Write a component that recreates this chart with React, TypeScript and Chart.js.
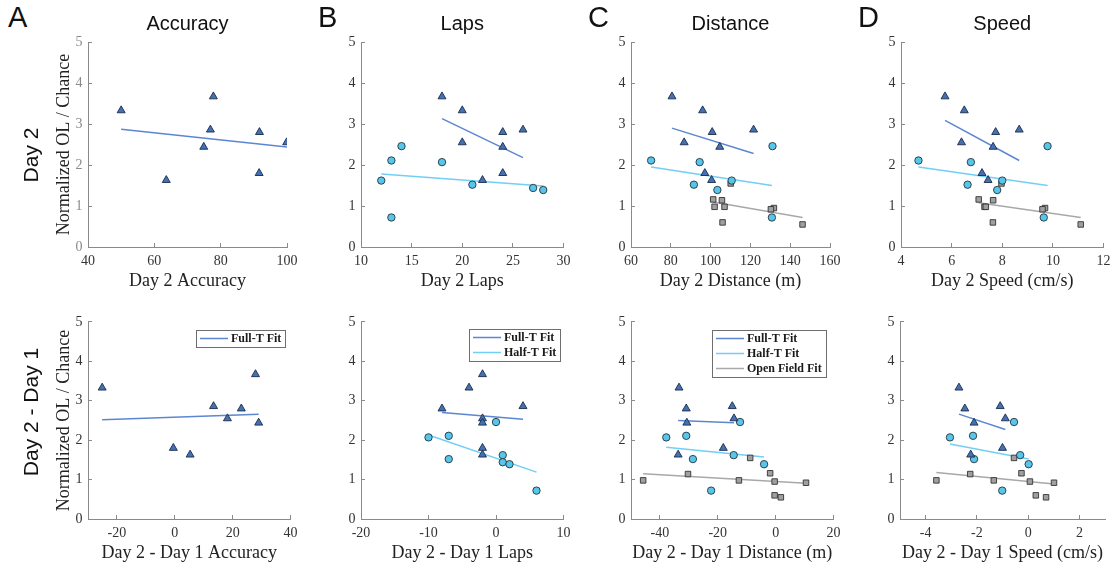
import React, { useEffect, useRef } from "react";
import { Chart, registerables } from "chart.js";
Chart.register(...registerables);

const SERIF = '"Liberation Serif", "Times New Roman", "DejaVu Serif", serif';
const SANS = '"Liberation Sans", Arial, Helvetica, sans-serif';

// ---------- tick labels ----------
const yTickValues = [0, 1, 2, 3, 4, 5];
const accDay2Ticks = [40, 60, 80, 100];
const lapsDay2Ticks = [10, 15, 20, 25, 30];
const distDay2Ticks = [60, 80, 100, 120, 140, 160];
const speedDay2Ticks = [4, 6, 8, 10, 12];
const accDiffTicks = [-20, 0, 20, 40];
const lapsDiffTicks = [-20, -10, 0, 10];
const distDiffTicks = [-40, -20, 0, 20];
const speedDiffTicks = [-4, -2, 0, 2];

// ---------- Normalized OL / Chance (per animal) ----------
const fullY = [3.33, 3.67, 2.86, 2.8, 2.55, 2.44, 1.8, 1.63];
const halfY = [2.11, 2.07, 2.46, 1.62, 1.52, 1.44, 1.39, 0.72];
const openY = [1.55, 1.16, 1.14, 0.98, 0.98, 0.95, 0.92, 0.6, 0.55];

// ---------- Day 2 values ----------
const accDay2Full = [50, 77.8, 76.9, 91.7, 99.9, 74.9, 91.6, 63.6];
const lapsDay2Full = [20, 18, 26, 24, 20, 24, 24, 22];
const lapsDay2Half = [13, 18, 14, 12, 21, 27, 28, 13];
const distDay2Full = [96, 80.6, 121.6, 100.8, 86.7, 104.6, 97.1, 100.5];
const distDay2Half = [70.1, 94.5, 131.1, 110.6, 91.6, null, 103.4, 130.8];
const distDay2Open = [110.1, 101.3, 105.7, 102, 107, 131.8, 130.3, 106, 146.2];
const speedDay2Full = [6.5, 5.74, 8.67, 7.74, 6.39, 7.64, 7.2, 7.44];
const speedDay2Half = [4.69, 6.76, 9.79, 8.0, 6.63, null, 7.8, 9.64];
const speedDay2Open = [7.97, 7.07, 7.64, 7.3, 7.35, 9.69, 9.59, 7.63, 11.1];

// ---------- Day 2 - Day 1 values ----------
const accDiffFull = [-25.1, 27.9, 13.4, 23, 18.2, 29, -0.5, 5.3];
const lapsDiffFull = [-4, -2, 4, -8, -2, -2, -2, -2];
const lapsDiffHalf = [-7, -10, 0, 1, -7, 1, 2, 6];
const distDiffFull = [-33.4, null, -15.0, -30.9, -14.4, -30.7, -18.1, -33.7];
const distDiffHalf = [-30.9, -37.8, -12.3, -14.5, -28.6, null, -4.0, -22.3];
const distDiffOpen = [-8.8, -1.9, -30.3, -45.8, -12.7, -0.35, 10.5, -0.35, 1.8];
const speedDiffFull = [-2.7, null, -1.09, -2.47, -0.89, -2.11, -1.0, -2.24];
const speedDiffHalf = [-2.15, -3.05, -0.55, -0.31, -2.11, null, 0.02, -1.01];
const speedDiffOpen = [-0.55, -0.26, -2.26, -3.58, -1.34, 0.07, 1.01, 0.3, 0.7];

// ---------- fit line end points [x, y] ----------
const fitAccDay2Full = [[50, 2.87], [100, 2.44]];
const fitLapsDay2Full = [[18, 3.13], [26, 2.18]];
const fitLapsDay2Half = [[12, 1.78], [28, 1.49]];
const fitDistDay2Full = [[80.6, 2.9], [121.6, 2.28]];
const fitDistDay2Half = [[70.1, 1.95], [130.8, 1.5]];
const fitDistDay2Open = [[101.3, 1.1], [146.2, 0.72]];
const fitSpeedDay2Full = [[5.74, 3.09], [8.67, 2.11]];
const fitSpeedDay2Half = [[4.69, 1.95], [9.79, 1.5]];
const fitSpeedDay2Open = [[7.07, 1.08], [11.1, 0.72]];
const fitAccDiffFull = [[-25.1, 2.52], [29, 2.66]];
const fitLapsDiffFull = [[-8, 2.7], [4, 2.53]];
const fitLapsDiffHalf = [[-10, 2.13], [6, 1.19]];
const fitDistDiffFull = [[-33.7, 2.5], [-14.4, 2.44]];
const fitDistDiffHalf = [[-37.8, 1.82], [-4, 1.57]];
const fitDistDiffOpen = [[-45.8, 1.15], [10.5, 0.91]];
const fitSpeedDiffFull = [[-2.7, 2.66], [-0.89, 2.27]];
const fitSpeedDiffHalf = [[-3.05, 1.9], [0.02, 1.52]];
const fitSpeedDiffOpen = [[-3.58, 1.18], [1.01, 0.89]];

type Kind = "full" | "half" | "open";
const STYLE: Record<Kind, any> = {
  full: { pointStyle: "triangle", radius: 4.6, bg: "#4571b3", border: "#1b2b4a", line: "#5b87d1", label: "Full-T Fit", name: "Full-T" },
  half: { pointStyle: "circle", radius: 3.7, bg: "#58c5ea", border: "#24343c", line: "#71cff5", label: "Half-T Fit", name: "Half-T" },
  open: { pointStyle: "rect", radius: 3.9, bg: "#a0a0a0", border: "#333333", line: "#a8a8a8", label: "Open Field Fit", name: "Open Field" },
};

type Panel = {
  id: string;
  row: 0 | 1;
  L: number;
  xMin: number;
  xMax: number;
  xTicks: number[];
  xTitle: string;
  title?: string;
  yTitle?: string;
  yTickColor?: string;
  series: { kind: Kind; xs: (number | null)[]; ys: number[] }[];
  fits: { kind: Kind; pts: number[][] }[];
  legend?: { right: number; top: number };
};

const PANELS: Panel[] = [
  {
    id: "A1", row: 0, L: 88, xMin: 40, xMax: 100, xTicks: accDay2Ticks, xTitle: "Day 2 Accuracy", title: "Accuracy",
    yTitle: "Normalized OL / Chance", yTickColor: "#8a8a8a",
    series: [{ kind: "full", xs: accDay2Full, ys: fullY }],
    fits: [{ kind: "full", pts: fitAccDay2Full }],
  },
  {
    id: "B1", row: 0, L: 361, xMin: 10, xMax: 30, xTicks: lapsDay2Ticks, xTitle: "Day 2 Laps", title: "Laps",
    series: [{ kind: "full", xs: lapsDay2Full, ys: fullY }, { kind: "half", xs: lapsDay2Half, ys: halfY }],
    fits: [{ kind: "full", pts: fitLapsDay2Full }, { kind: "half", pts: fitLapsDay2Half }],
  },
  {
    id: "C1", row: 0, L: 631, xMin: 60, xMax: 160, xTicks: distDay2Ticks, xTitle: "Day 2 Distance (m)", title: "Distance",
    series: [
      { kind: "full", xs: distDay2Full, ys: fullY },
      { kind: "half", xs: distDay2Half, ys: halfY },
      { kind: "open", xs: distDay2Open, ys: openY },
    ],
    fits: [{ kind: "full", pts: fitDistDay2Full }, { kind: "half", pts: fitDistDay2Half }, { kind: "open", pts: fitDistDay2Open }],
  },
  {
    id: "D1", row: 0, L: 901, xMin: 4, xMax: 12, xTicks: speedDay2Ticks, xTitle: "Day 2 Speed (cm/s)", title: "Speed",
    series: [
      { kind: "full", xs: speedDay2Full, ys: fullY },
      { kind: "half", xs: speedDay2Half, ys: halfY },
      { kind: "open", xs: speedDay2Open, ys: openY },
    ],
    fits: [{ kind: "full", pts: fitSpeedDay2Full }, { kind: "half", pts: fitSpeedDay2Half }, { kind: "open", pts: fitSpeedDay2Open }],
  },
  {
    id: "A2", row: 1, L: 88, xMin: -30, xMax: 40, xTicks: accDiffTicks, xTitle: "Day 2 - Day 1 Accuracy",
    yTitle: "Normalized OL / Chance",
    series: [{ kind: "full", xs: accDiffFull, ys: fullY }],
    fits: [{ kind: "full", pts: fitAccDiffFull }],
    legend: { right: 6, top: 8 },
  },
  {
    id: "B2", row: 1, L: 361, xMin: -20, xMax: 10, xTicks: lapsDiffTicks, xTitle: "Day 2 - Day 1 Laps",
    series: [{ kind: "full", xs: lapsDiffFull, ys: fullY }, { kind: "half", xs: lapsDiffHalf, ys: halfY }],
    fits: [{ kind: "full", pts: fitLapsDiffFull }, { kind: "half", pts: fitLapsDiffHalf }],
    legend: { right: 4, top: 7 },
  },
  {
    id: "C2", row: 1, L: 631, xMin: -50, xMax: 20, xTicks: distDiffTicks, xTitle: "Day 2 - Day 1 Distance (m)",
    series: [
      { kind: "full", xs: distDiffFull, ys: fullY },
      { kind: "half", xs: distDiffHalf, ys: halfY },
      { kind: "open", xs: distDiffOpen, ys: openY },
    ],
    fits: [{ kind: "full", pts: fitDistDiffFull }, { kind: "half", pts: fitDistDiffHalf }, { kind: "open", pts: fitDistDiffOpen }],
    legend: { right: 8, top: 8 },
  },
  {
    id: "D2", row: 1, L: 900, xMin: -5, xMax: 3, xTicks: speedDiffTicks, xTitle: "Day 2 - Day 1 Speed (cm/s)",
    series: [
      { kind: "full", xs: speedDiffFull, ys: fullY },
      { kind: "half", xs: speedDiffHalf, ys: halfY },
      { kind: "open", xs: speedDiffOpen, ys: openY },
    ],
    fits: [{ kind: "full", pts: fitSpeedDiffFull }, { kind: "half", pts: fitSpeedDiffHalf }, { kind: "open", pts: fitSpeedDiffOpen }],
  },
];

// geometry of plot areas
const PLOT_W = 205;
const ROW_TOP = [42, 314];
const PLOT_H = 205;
const Y_AXIS_W = 60;
const X_AXIS_H = 45;
const PAD_RIGHT = 14;
const TITLE_TOP = 12;

const fitLegendPlugin = {
  id: "fitLegend",
  afterDatasetsDraw(chart: any, _args: any, opts: any) {
    if (!opts || !opts.display) return;
    const items = chart.data.datasets.filter((d: any) => d.isFit);
    const ctx = chart.ctx;
    const { right, top } = chart.chartArea;
    ctx.save();
    ctx.font = `bold 12px ${SERIF}`;
    const textW = Math.max(...items.map((d: any) => ctx.measureText(d.label).width));
    const lineLen = 28;
    const rowH = 15;
    const w = Math.round(4 + lineLen + 3 + textW + 4);
    const h = items.length * rowH + 2;
    const x0 = Math.round(right - opts.right - w);
    const y0 = Math.round(top + opts.top);
    ctx.fillStyle = "#ffffff";
    ctx.fillRect(x0, y0, w, h);
    ctx.strokeStyle = "#6e6e6e";
    ctx.lineWidth = 1;
    ctx.strokeRect(x0 + 0.5, y0 + 0.5, w, h);
    items.forEach((d: any, i: number) => {
      const cy = y0 + 1 + rowH * (i + 0.5);
      ctx.strokeStyle = d.borderColor;
      ctx.lineWidth = 1.5;
      ctx.beginPath();
      ctx.moveTo(x0 + 4, cy);
      ctx.lineTo(x0 + 4 + lineLen, cy);
      ctx.stroke();
      ctx.fillStyle = "#1a1a1a";
      ctx.textBaseline = "middle";
      ctx.textAlign = "left";
      ctx.fillText(d.label, x0 + 4 + lineLen + 3, cy + 0.5);
    });
    ctx.restore();
  },
};

function PanelChart({ p }: { p: Panel }) {
  const ref = useRef<HTMLCanvasElement>(null);
  const plotTop = ROW_TOP[p.row];
  const canvasTop = p.row === 0 ? TITLE_TOP : plotTop - 10;
  const canvasLeft = p.L - Y_AXIS_W;
  const width = Y_AXIS_W + PLOT_W + PAD_RIGHT;
  const height = plotTop + PLOT_H + X_AXIS_H - canvasTop;

  useEffect(() => {
    if (!ref.current) return;
    const datasets: any[] = [];
    p.series.forEach((s) => {
      const st = STYLE[s.kind];
      const data = s.xs
        .map((x, i) => (x === null ? null : { x, y: s.ys[i] }))
        .filter((d) => d !== null);
      datasets.push({
        type: "scatter",
        label: st.name,
        data,
        pointStyle: st.pointStyle,
        pointRadius: st.radius,
        pointBackgroundColor: st.bg,
        pointBorderColor: st.border,
        pointBorderWidth: 0.9,
        showLine: false,
      });
    });
    p.fits.forEach((f) => {
      const st = STYLE[f.kind];
      datasets.push({
        type: "line",
        label: st.label,
        isFit: true,
        data: f.pts.map(([x, y]) => ({ x, y })),
        borderColor: st.line,
        borderWidth: 1.5,
        pointRadius: 0,
        fill: false,
        tension: 0,
      });
    });

    const titleTop = plotTop - canvasTop;
    const chart = new Chart(ref.current, {
      type: "scatter",
      data: { datasets },
      options: {
        animation: false,
        responsive: false,
        maintainAspectRatio: false,
        devicePixelRatio: 1,
        layout: { padding: { top: p.row === 0 ? 0 : 10, right: PAD_RIGHT, left: 0, bottom: 0 } },
        plugins: {
          legend: { display: false },
          tooltip: { enabled: false },
          title: {
            display: !!p.title,
            text: p.title || "",
            fullSize: false,
            color: "#111111",
            font: { family: SANS, size: 20, weight: "normal", lineHeight: 1.2 },
            padding: { top: 0, bottom: titleTop - 24 },
          },
          fitLegend: p.legend ? { display: true, right: p.legend.right, top: p.legend.top } : { display: false },
        } as any,
        scales: {
          x: {
            type: "linear",
            min: p.xMin,
            max: p.xMax,
            afterBuildTicks: (scale: any) => {
              scale.ticks = p.xTicks.map((v) => ({ value: v }));
            },
            afterFit: (scale: any) => {
              scale.height = X_AXIS_H;
            },
            grid: { display: true, drawOnChartArea: false, drawTicks: true, tickLength: -4, color: "#8a8a8a", tickWidth: 1 },
            border: { display: true, color: "#8a8a8a", width: 1 },
            ticks: { autoSkip: false, maxRotation: 0, padding: 9.5, color: "#333333", font: { family: SERIF, size: 14 } },
            title: {
              display: true,
              text: p.xTitle,
              color: "#222222",
              font: { family: SERIF, size: 18, lineHeight: 1.2 },
              padding: { top: 0, bottom: 0 },
            },
          },
          y: {
            type: "linear",
            min: 0,
            max: 5,
            afterBuildTicks: (scale: any) => {
              scale.ticks = yTickValues.map((v) => ({ value: v }));
            },
            afterFit: (scale: any) => {
              scale.width = Y_AXIS_W;
            },
            grid: { display: true, drawOnChartArea: false, drawTicks: true, tickLength: -4, color: "#8a8a8a", tickWidth: 1 },
            border: { display: true, color: "#8a8a8a", width: 1 },
            ticks: { autoSkip: false, padding: 9.5, color: p.yTickColor || "#333333", font: { family: SERIF, size: 14 } },
            title: {
              display: !!p.yTitle,
              text: p.yTitle || "",
              color: "#222222",
              font: { family: SERIF, size: 18, lineHeight: 1.2 },
              padding: { top: 25, bottom: 0 },
            },
          },
        },
      },
      plugins: [fitLegendPlugin as any],
    } as any);
    return () => chart.destroy();
  }, []);

  return (
    <canvas
      ref={ref}
      width={width}
      height={height}
      style={{ position: "absolute", left: canvasLeft, top: canvasTop, width, height }}
    />
  );
}

const LETTERS = [
  { t: "A", x: 8 },
  { t: "B", x: 318 },
  { t: "C", x: 588 },
  { t: "D", x: 858 },
];
const ROW_LABELS = [
  { t: "Day 2", y: 155 },
  { t: "Day 2 - Day 1", y: 412 },
];

export default function App() {
  return (
    <div
      style={{
        position: "absolute",
        left: 0,
        top: 0,
        width: 1117,
        height: 568,
        overflow: "hidden",
        background: "#ffffff",
      }}
    >
      {PANELS.map((p) => (
        <PanelChart key={p.id} p={p} />
      ))}
      {LETTERS.map((l) => (
        <div
          key={l.t}
          style={{
            position: "absolute",
            left: l.x,
            top: 3,
            fontFamily: SANS,
            fontSize: 29,
            lineHeight: "29px",
            color: "#111",
          }}
        >
          {l.t}
        </div>
      ))}
      {ROW_LABELS.map((r) => (
        <div
          key={r.t}
          style={{
            position: "absolute",
            left: 31,
            top: r.y,
            transform: "translate(-50%, -50%) rotate(-90deg)",
            whiteSpace: "nowrap",
            fontFamily: SANS,
            fontSize: 21,
            lineHeight: "24px",
            color: "#111",
          }}
        >
          {r.t}
        </div>
      ))}
    </div>
  );
}
